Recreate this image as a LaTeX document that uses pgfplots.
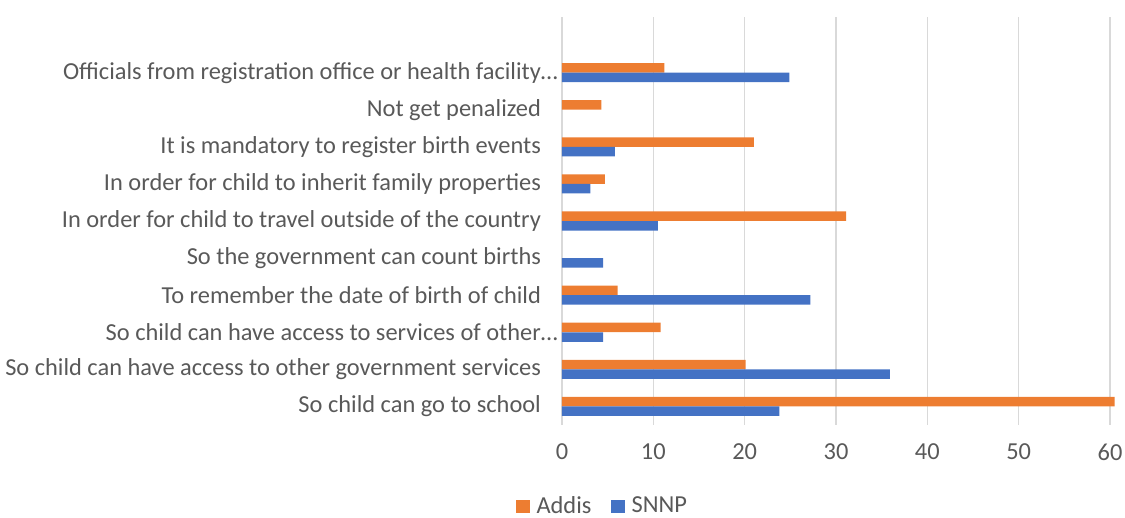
\documentclass[border=0pt]{standalone}
\usepackage{pgfplots}
\pgfplotsset{compat=1.18}
\usepackage{fontspec}
\setmainfont{Carlito}
\definecolor{addis}{HTML}{ED7D31}
\definecolor{snnp}{HTML}{4472C4}
\definecolor{txt}{HTML}{595959}
\definecolor{gridc}{HTML}{D9D9D9}
\begin{document}
\begin{tikzpicture}
\path[use as bounding box] (0,0) rectangle (562.5pt,259pt);
\begin{axis}[
  at={(281pt,46.5pt)}, anchor=south west,
  scale only axis, width=274pt, height=204pt,
  xmin=0, xmax=60, ymin=-0.5, ymax=10.5,
  clip=false,
  xbar, bar width=4.75pt,
  axis line style={draw=none},
  major tick length=0pt,
  xmajorgrids, ymajorgrids=false, grid style={draw=gridc, line width=0.8pt},
  xtick={0,10,...,60},
  ytick={0,...,9},
  yticklabels={So child can go to school,
    So child can have access to other government services,
    So child can have access to services of other\rlap{…},
    To remember the date of birth of child,
    So the government can count births,
    In order for child to travel outside of the country,
    In order for child to inherit family properties,
    It is mandatory to register birth events,
    Not get penalized,
    Officials from registration office or health facility\rlap{…}},
  tick label style={font=\fontsize{12.2pt}{14pt}\selectfont, text=txt},
  /pgf/number format/assume math mode=true,
  xticklabel style={yshift=-6pt},
  yticklabel style={xshift=-7pt},
  legend style={at={(0.076,-0.199)}, anchor=center, draw=none, legend columns=2,
    font=\fontsize{12.2pt}{14pt}\selectfont, text=txt,
    /tikz/every odd column/.append style={column sep=1.5pt},
    /tikz/every even column/.append style={column sep=8pt}},
  legend image code/.code={\fill[#1] (0pt,-3.3pt) rectangle (6.6pt,3.3pt);},
]
\addplot[fill=addis, draw=none, bar shift=2.4pt] coordinates {
 (60.5,0) (20.1,1) (10.8,2) (6.1,3) (31.1,5) (4.7,6) (21.0,7) (4.3,8) (11.2,9)};
\addlegendentry{Addis}
\addplot[fill=snnp, draw=none, bar shift=-2.4pt] coordinates {
 (23.8,0) (35.9,1) (4.5,2) (27.2,3) (4.5,4) (10.5,5) (3.1,6) (5.8,7) (24.9,9)};
\addlegendentry{SNNP}
\end{axis}
\end{tikzpicture}
\end{document}
